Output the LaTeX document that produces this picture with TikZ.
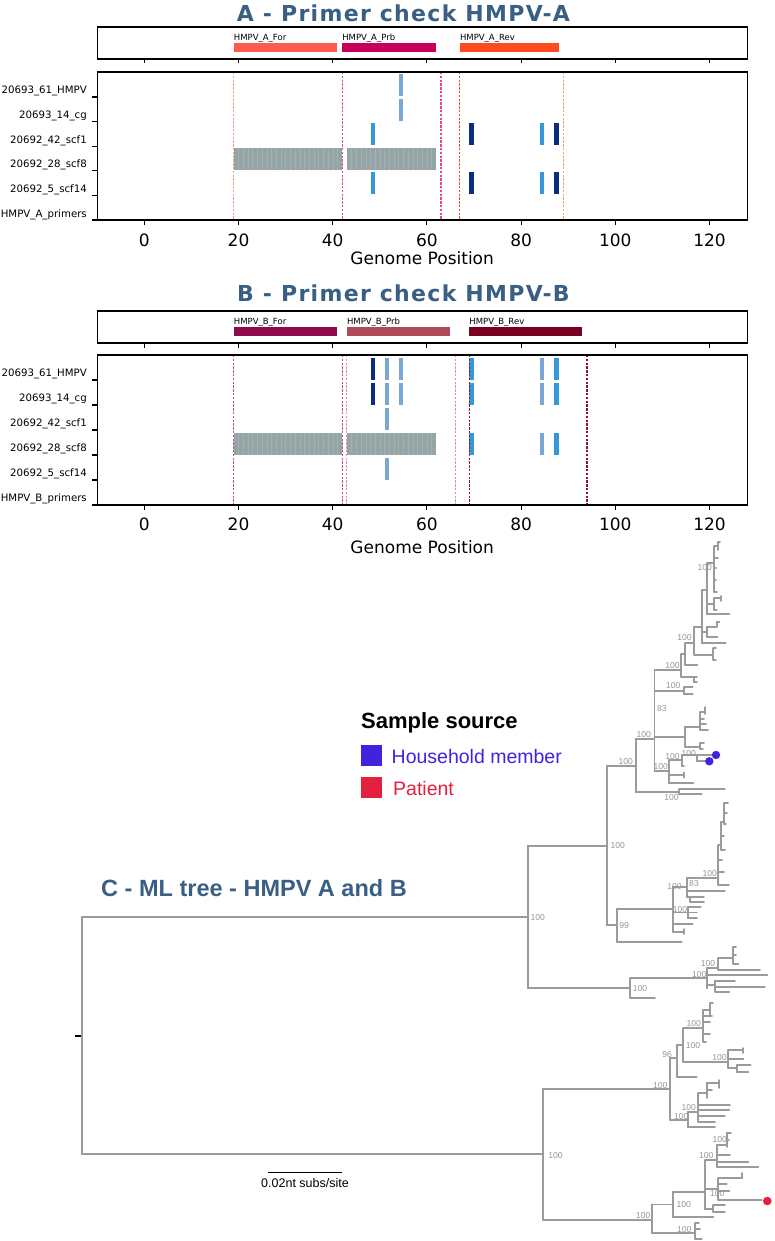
\documentclass[tikz,border=0pt]{standalone}
\usepackage{fontspec}
\setmainfont{DejaVu Sans}
\newfontfamily\helv{Liberation Sans}
\newfontfamily\ttlfont[LetterSpace=6]{DejaVu Sans Bold}
\definecolor{ttl}{RGB}{58,95,133}
\definecolor{afor}{RGB}{255,90,80}
\definecolor{aprb}{RGB}{200,0,90}
\definecolor{arev}{RGB}{255,75,30}
\definecolor{bfor}{RGB}{142,10,76}
\definecolor{bprb}{RGB}{176,74,90}
\definecolor{brev}{RGB}{120,0,32}
\definecolor{navy}{RGB}{12,45,125}
\definecolor{midb}{RGB}{52,152,219}
\definecolor{ltb}{RGB}{122,168,214}
\definecolor{grb}{RGB}{149,165,166}
\definecolor{treecol}{RGB}{155,155,155}
\definecolor{bscol}{RGB}{150,150,150}
\definecolor{hh}{RGB}{64,35,225}
\definecolor{pat}{RGB}{228,32,60}
\definecolor{dA1}{RGB}{255,150,140}
\definecolor{dA2}{RGB}{235,70,150}
\definecolor{dA3}{RGB}{230,80,40}
\definecolor{dA4}{RGB}{255,150,110}
\definecolor{dB1}{RGB}{190,80,130}
\definecolor{dB2}{RGB}{225,140,160}
\definecolor{dB3}{RGB}{140,20,50}
\newcommand\trv[3]{\draw[tr] (#1,#2)--(#1,#3);}
\newcommand\trh[3]{\draw[tr] (#2,#1)--(#3,#1);}
\newcommand\bsl[3]{\node[bs] at (#1,#2) {#3};}
\begin{document}
\begin{tikzpicture}[x=1pt,y=-1pt,
  spine/.style={line width=1.2pt,draw=black},
  tk/.style={line width=1.1pt,draw=black},
  dl/.style={dash pattern=on 2.4pt off 1.4pt,line width=1.1pt},
  plbl/.style={anchor=base west,inner sep=0pt,font=\fontsize{8.5}{10}\selectfont},
  ylbl/.style={anchor=east,inner sep=0pt,font=\fontsize{10.2}{12}\selectfont},
  xlbl/.style={inner sep=0pt,font=\fontsize{17}{20}\selectfont},
  ptitle/.style={text=ttl,inner sep=0pt,font=\ttlfont\fontsize{22}{26}\selectfont},
  stripe/.style={draw=grb!88!white,line width=0.3pt},
  tr/.style={draw=treecol,line width=1.8pt,line cap=round},
  bs/.style={inner sep=0pt,text=bscol,font=\helv\fontsize{8.6}{9}\selectfont}]
\useasboundingbox (0,0) rectangle (774,1241);
\fill[white] (0,0) rectangle (774,1241);

% ================= Panel A =================
\node[ptitle] (tA) at (403.5,13) {A - Primer check HMPV-A};
\begin{scope}[xshift=144.3pt,x=4.71pt]
  \draw[spine] (-10,27) rectangle (128,59);
  \foreach \u in {0,20,...,120} \draw[tk] (\u,59) -- (\u,63.5);
  \fill[afor] (19,43) rectangle (41,52);
  \fill[aprb] (42,43) rectangle (62,52);
  \fill[arev] (67,43) rectangle (88,52);
  \node[plbl] (pAf) at (19,40.5) {HMPV\_A\_For};
  \node[plbl] (pAp) at (42,40.5) {HMPV\_A\_Prb};
  \node[plbl] (pAr) at (67,40.5) {HMPV\_A\_Rev};
  \fill[grb] (19,147.8) rectangle (42,169.8);
  \fill[grb] (43,147.8) rectangle (62,169.8);
  \foreach \u in {20,...,41} \draw[stripe] (\u,147.8) -- (\u,169.8);
  \foreach \u in {44,...,61} \draw[stripe] (\u,147.8) -- (\u,169.8);
  \foreach \u/\rw/\c in {54/0/ltb,54/1/ltb,48/2/midb,69/2/navy,84/2/midb,87/2/navy,48/4/midb,69/4/navy,84/4/midb,87/4/navy}
    \fill[\c] ({\u+0.04},{74+24.6*\rw}) rectangle ({\u+0.96},{96+24.6*\rw});
  \foreach \u/\c in {19/dA1,42/dA2,63/dA2,67/dA3,89/dA4}
    \draw[dl,\c] (\u,72) -- (\u,220);
  \draw[spine] (-10,72) rectangle (128,220);
  \foreach \u in {0,20,...,120} {
    \draw[tk] (\u,220) -- (\u,225);
    \node[xlbl] at (\u,240) {\u};
  }
  \node[xlbl] (gA) at (59,258) {Genome Position};
\end{scope}
\foreach \y in {97,121.6,146.2,170.8,195.4,220} \draw[tk] (92,\y) -- (97,\y);
\foreach \y/\t in {91/20693\_61\_HMPV,116/20693\_14\_cg,140.5/20692\_42\_scf1,165/20692\_28\_scf8,190/20692\_5\_scf14,214.5/HMPV\_A\_primers}
  \node[ylbl] at (87,\y) {\t};

% ================= Panel B =================
\node[ptitle] (tB) at (403.5,293.5) {B - Primer check HMPV-B};
\begin{scope}[xshift=144.3pt,x=4.71pt]
  \draw[spine] (-10,311) rectangle (128,343);
  \foreach \u in {0,20,...,120} \draw[tk] (\u,343) -- (\u,347.5);
  \fill[bfor] (19,327) rectangle (41,336);
  \fill[bprb] (43,327) rectangle (65,336);
  \fill[brev] (69,327) rectangle (93,336);
  \node[plbl] (pBf) at (19,324.5) {HMPV\_B\_For};
  \node[plbl] (pBp) at (43,324.5) {HMPV\_B\_Prb};
  \node[plbl] (pBr) at (69,324.5) {HMPV\_B\_Rev};
  \fill[grb] (19,433) rectangle (42,455);
  \fill[grb] (43,433) rectangle (62,455);
  \foreach \u in {20,...,41} \draw[stripe] (\u,433) -- (\u,455);
  \foreach \u in {44,...,61} \draw[stripe] (\u,433) -- (\u,455);
  \foreach \u/\rw/\c in {48/0/navy,51/0/ltb,54/0/ltb,69/0/midb,84/0/ltb,87/0/midb,
                          48/1/navy,51/1/ltb,54/1/ltb,69/1/midb,84/1/ltb,87/1/midb,
                          51/2/ltb,69/3/midb,84/3/ltb,87/3/midb,51/4/ltb}
    \fill[\c] ({\u+0.04},{358+25*\rw}) rectangle ({\u+0.96},{380+25*\rw});
  \foreach \u/\c in {19/dB1,42/dB1,43/dB2,66/dB2,69/dB3,94/dB3}
    \draw[dl,\c] (\u,355) -- (\u,505);
  \draw[spine] (-10,355) rectangle (128,505);
  \foreach \u in {0,20,...,120} {
    \draw[tk] (\u,505) -- (\u,510);
    \node[xlbl] at (\u,524) {\u};
  }
  \node[xlbl] (gB) at (59,547.5) {Genome Position};
\end{scope}
\foreach \y in {380,405,430,455,480,505} \draw[tk] (92,\y) -- (97,\y);
\foreach \y/\t in {374/20693\_61\_HMPV,399/20693\_14\_cg,424/20692\_42\_scf1,449/20692\_28\_scf8,474/20692\_5\_scf14,499/HMPV\_B\_primers}
  \node[ylbl] at (87,\y) {\t};

% ================= Panel C (tree) =================
\node[text=ttl,inner sep=0pt,font=\helv\bfseries\fontsize{23.5}{26}\selectfont] (tC) at (254,887.7) {C - ML tree - HMPV A and B};
\node[anchor=west,inner sep=0pt,font=\helv\bfseries\fontsize{22}{26}\selectfont] (lg) at (361,723.3) {Sample source};
\fill[hh] (361,745) rectangle (382.3,766);
\node[anchor=west,inner sep=0pt,text=hh,font=\helv\fontsize{19.5}{22}\selectfont] (lh) at (391.5,756.7) {Household member};
\fill[pat] (361,777.3) rectangle (382.3,798.3);
\node[anchor=west,inner sep=0pt,text=pat,font=\helv\fontsize{19.5}{22}\selectfont] (lp) at (393,788.7) {Patient};

% scale bar
\coordinate (sb1) at (268,1172.7);
\coordinate (sb2) at (342,1172.7);
\draw[line width=1pt] (sb1) -- (sb2);
\node[inner sep=0pt,font=\helv\fontsize{12.5}{14}\selectfont] (sbl) at (305,1183.5) {0.02nt subs/site};

% root
\draw[line width=1.3pt] (75,1036) -- (82,1036);
\trv{82}{917}{1154.3}
\trh{917}{82}{527.7}
\trh{1154.3}{82}{542.7}

% clade A
\trv{527.7}{845.7}{988.3}\trh{845.7}{527.7}{606.7}\trh{988.3}{527.7}{630}
\trv{606.7}{765.7}{925.3}\trh{765.7}{606.7}{635.7}\trh{925.3}{606.7}{616.7}
\trv{635.7}{738.7}{792.3}\trh{738.7}{635.7}{654.5}\trh{792.3}{635.7}{679.3}
\trv{679.3}{789.3}{794.3}\trh{789.3}{679.3}{725}\trh{794.3}{679.3}{701.7}
\trv{654.5}{670}{771}\trh{670}{654.5}{681.3}\trh{690.7}{654.5}{684}\trh{736.7}{654.5}{685}\trh{771}{654.5}{669}
\trv{684}{687}{694}\trh{687}{684}{692.7}\trh{694}{684}{692.7}
\trv{685}{726.7}{746.7}\trh{726.7}{685}{700}\trh{746.7}{685}{700}
\trv{700}{712}{730}\trh{712}{700}{705}\trv{705}{707}{714}\trh{719}{700}{704}\trh{724}{700}{706}\trh{730}{700}{708}
\trv{700}{743}{749}\trh{743}{700}{704}\trh{749}{700}{703}
\trv{669}{760}{783.3}\trh{760}{669}{681.7}\trh{775}{669}{684}\trv{684}{772.5}{777.5}\trh{783.3}{669}{693.3}
\trv{681.7}{755}{766}\trh{755}{681.7}{696.7}\trh{766}{681.7}{684}
\trv{696.7}{755}{760.7}\trh{755}{696.7}{712}\trh{760.7}{696.7}{706}
\trv{681.3}{654}{677}\trh{654}{681.3}{685}\trh{677}{681.3}{694}\trv{694}{677}{682.3}\trh{682.3}{694}{697}\trh{677}{694}{697}
\trv{685}{643.3}{665}\trh{643.3}{685}{694.3}\trh{665}{685}{697.3}
\trv{694.3}{626.7}{655}\trh{626.7}{694.3}{701.7}\trh{655}{694.3}{713.3}\trv{713.3}{648.3}{660}\trh{648.3}{713.3}{716}\trh{660}{713.3}{716}
\trv{701.7}{590}{642.7}\trh{590}{701.7}{706.7}\trh{631.7}{701.7}{706.7}\trh{642.7}{701.7}{725.7}
\trv{706.7}{626.7}{636.7}\trh{626.7}{706.7}{716.7}\trv{716.7}{621.7}{626.7}\trh{621.7}{716.7}{719.3}\trh{636.7}{706.7}{717.3}
\trv{706.7}{563.3}{614.3}\trh{563.3}{706.7}{714.3}\trh{604}{706.7}{714}\trh{614.3}{706.7}{729.3}
\trv{714}{598.3}{610}\trh{598.3}{714}{721}\trv{721}{596}{601}\trh{610}{714}{716.7}
\trv{714.3}{546}{592}\trh{546}{714.3}{718}\trv{718}{541.7}{550}\trh{541.7}{718}{720}\trh{558}{714.3}{718}\trh{568}{714.3}{716}\trh{580}{714.3}{716}\trh{592}{714.3}{717}
% A lower
\trv{616.7}{909.3}{941.7}\trh{909.3}{616.7}{672.7}\trh{941.7}{616.7}{681.7}
\trv{672.7}{886.7}{931.7}\trh{886.7}{672.7}{686.7}\trh{912.5}{672.7}{688.3}\trh{924.3}{672.7}{692.7}\trh{931.7}{672.7}{684}\trv{684}{929}{934}
\trv{688.3}{906.7}{918.3}\trh{906.7}{688.3}{700.7}\trh{912.5}{688.3}{697}\trh{918.3}{688.3}{697}
\trv{686.7}{878.3}{896.7}\trh{878.3}{686.7}{718.3}\trh{890.7}{686.7}{725}\trh{896.7}{686.7}{690}\trv{690}{896.7}{901.7}\trh{896.7}{690}{704}\trh{901.7}{690}{704}
\trv{718.3}{845}{885}\trh{885}{718.3}{729}\trh{872}{718.3}{724}\trh{860}{718.3}{722}\trh{845}{718.3}{721}
\trv{721}{822}{850}\trh{850}{721}{725}\trh{836}{721}{724}\trh{822}{721}{724}
\trv{724}{803}{824}\trh{803}{724}{728}\trh{813}{724}{727}\trh{824}{724}{726}
\trv{630}{978.3}{997.7}\trh{978.3}{630}{706.7}\trh{997.7}{630}{655}
\trv{706.7}{968.3}{988.3}\trh{968.3}{706.7}{718.3}\trh{975}{706.7}{767.3}\trh{985}{706.7}{715}
\trv{715}{980.7}{991.7}\trh{980.7}{715}{735}\trh{986.7}{715}{765}\trh{991.7}{715}{729.3}
\trv{718.3}{958.3}{970}\trh{958.3}{718.3}{733.3}\trh{970}{718.3}{760}
\trv{733.3}{946.7}{964}\trh{946.7}{733.3}{736}\trh{955}{733.3}{736}\trh{964}{733.3}{738.3}

% clade B
\trv{542.7}{1089.3}{1220}\trh{1089.3}{542.7}{670}\trh{1220}{542.7}{651.7}
\trv{670}{1058}{1120}\trh{1058}{670}{676.7}\trh{1120}{670}{688.3}
\trv{676.7}{1045}{1076.7}\trh{1045}{676.7}{683.3}\trh{1076.7}{676.7}{696.7}
\trv{683.3}{1028.3}{1061.7}\trh{1028.3}{683.3}{703.3}\trh{1061.7}{683.3}{728.3}
\trv{703.3}{1010}{1041.7}\trh{1010}{703.3}{710}\trv{710}{1003}{1015}\trh{1003}{710}{713}\trh{1016}{703.3}{712}\trh{1022}{703.3}{710}\trh{1034}{703.3}{710}\trh{1041.7}{703.3}{706}
\trv{728.3}{1050}{1068}\trh{1050}{728.3}{743.3}\trv{743.3}{1048}{1053}\trh{1059.3}{728.3}{743.3}\trh{1068}{728.3}{736.7}
\trv{736.7}{1065}{1071.7}\trh{1065}{736.7}{750.7}\trh{1071.7}{736.7}{748.3}
\trv{688.3}{1111.7}{1127.3}\trh{1111.7}{688.3}{698.3}\trh{1127.3}{688.3}{715}
\trv{698.3}{1093.3}{1121.7}\trh{1093.3}{698.3}{706.7}\trh{1105}{698.3}{730}\trh{1110}{698.3}{729.3}\trh{1116}{698.3}{725}\trh{1121.7}{698.3}{715}
\trv{706.7}{1083}{1098}\trh{1083}{706.7}{719.3}\trv{719.3}{1080}{1088}\trh{1090}{706.7}{712}
\trv{651.7}{1204.5}{1233.3}\trh{1204.5}{651.7}{673.3}\trh{1233.3}{651.7}{695}
\trv{695}{1223}{1239}\trh{1223}{695}{699}\trh{1229}{695}{700}\trh{1239}{695}{701.7}
\trv{673.3}{1191.7}{1217.3}\trh{1191.7}{673.3}{705}\trh{1217.3}{673.3}{713.3}
\trv{705}{1160}{1209.3}\trh{1160}{705}{716.7}\trh{1189}{705}{718.3}\trh{1209.3}{705}{713.3}
\trv{716.7}{1145}{1166.7}\trh{1145}{716.7}{726.7}\trh{1155}{716.7}{730}\trh{1161.7}{716.7}{748.3}\trh{1166.7}{716.7}{758.3}
\trv{726.7}{1133}{1147}\trh{1133}{726.7}{731}\trh{1140}{726.7}{729}
\trv{718.3}{1178.3}{1200}\trh{1178.3}{718.3}{741.7}\trv{741.7}{1173}{1178.3}\trh{1184.3}{718.3}{726.7}\trh{1190.7}{718.3}{729.3}\trh{1200}{718.3}{761.7}
\trv{713.3}{1205}{1211.7}\trh{1205}{713.3}{725}\trh{1211.7}{713.3}{725}

% tip markers
\fill[hh] (716,755) circle (4.2);
\fill[hh] (709.3,761.3) circle (4.2);
\fill[pat] (767.3,1201) circle (4.3);

% bootstrap labels
\bsl{537.7}{917.3}{100}\bsl{617.7}{846}{100}\bsl{625.7}{762}{100}\bsl{643.7}{735}{100}
\bsl{661.8}{709}{83}\bsl{673.3}{685.7}{100}\bsl{672.5}{665.7}{100}\bsl{684.5}{637.3}{100}
\bsl{704.7}{567.3}{100}\bsl{672.5}{756.7}{100}\bsl{688.8}{754}{100}\bsl{660.8}{766.7}{100}
\bsl{671.5}{797.7}{100}\bsl{624.2}{925.3}{99}\bsl{640}{988.3}{100}\bsl{674.5}{886.7}{100}
\bsl{694}{884}{83}\bsl{709.7}{874}{100}\bsl{680}{910}{100}\bsl{699.3}{975}{100}\bsl{708}{963.3}{100}
\bsl{555.5}{1155.7}{100}\bsl{660.3}{1086}{100}\bsl{667.2}{1055}{96}\bsl{693}{1046}{100}
\bsl{693.8}{1023.3}{100}\bsl{719.5}{1057.3}{100}\bsl{681.3}{1116.7}{100}\bsl{688.8}{1107.3}{100}
\bsl{643.3}{1216}{100}\bsl{683.7}{1205}{100}\bsl{684.2}{1230}{100}\bsl{717.2}{1193.3}{100}
\bsl{706.3}{1155.7}{100}\bsl{719.7}{1140}{100}
\end{tikzpicture}
\end{document}
